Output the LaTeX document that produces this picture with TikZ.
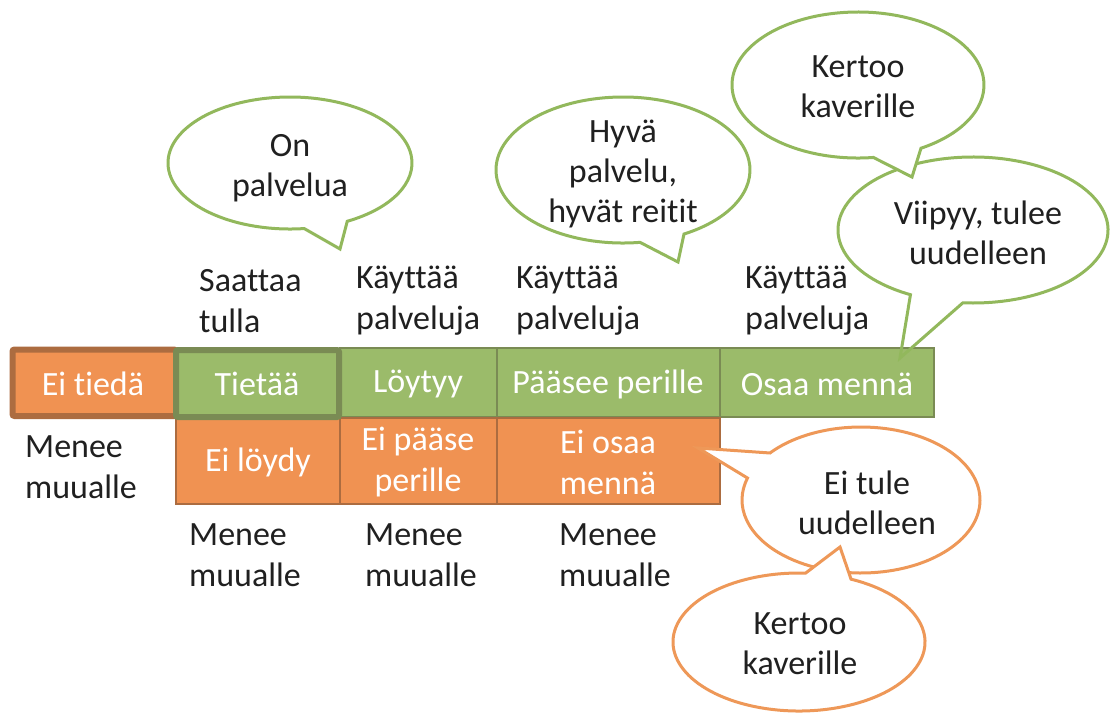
\documentclass[tikz,border=0pt]{standalone}
\usepackage{fontspec}
\setmainfont{Carlito}[Ligatures=NoCommon]
\definecolor{ofill}{RGB}{240,146,82}
\definecolor{oline}{RGB}{172,108,64}
\definecolor{gfill}{RGB}{155,187,106}
\definecolor{gline}{RGB}{122,139,84}
\definecolor{cgreen}{RGB}{146,184,92}
\definecolor{corange}{RGB}{238,152,88}
\definecolor{txt}{RGB}{32,32,32}
\newcommand{\bubble}[9]{%
  \path[#1] (#2,#3) ++(#6:#4 and #5) arc[start angle=#6, end angle=#7, x radius=#4, y radius=#5] -- (#8,#9) -- cycle;}
\tikzset{
  gbox/.style={draw=gline, fill=gfill, line width=2.6pt},
  obox/.style={draw=oline, fill=ofill, line width=2.6pt},
  gthick/.style={draw=gline, line width=6pt, rounded corners=2pt},
  othick/.style={draw=oline, fill=ofill, line width=6pt, rounded corners=2pt},
  boxtext/.style={text=white, font=\fontsize{34}{41}\selectfont, align=center, inner sep=0pt},
  lbl/.style={text=txt, font=\fontsize{34}{41}\selectfont, align=left, inner sep=0pt, anchor=west},
  ctext/.style={text=txt, font=\fontsize{34}{40}\selectfont, align=center, inner sep=0pt},
  callg/.style={draw=cgreen, fill=white, line width=3pt, line join=miter},
  callo/.style={draw=corange, fill=white, line width=3pt, line join=miter},
}
\begin{document}
\begin{tikzpicture}[x=1pt,y=-1pt]
\useasboundingbox (0,0) rectangle (1111,713);
% fill of the Viipyy bubble lies under the boxes
\bubble{fill=white}{973}{230}{135}{73}{117.6}{454.3}{900}{358}
% boxes
\path[gbox] (340,348) rectangle (497,417);
\path[gbox] (497,348) rectangle (720,417);
\path[gbox] (720,348) rectangle (934,417);
\path[obox] (176,418) rectangle (340,504);
\path[obox] (340,418) rectangle (497,504);
\path[obox] (497,418) rectangle (720,504);
\path[othick] (12.5,349.5) rectangle (176,416);
\path[gthick, fill=gfill] (176,350) rectangle (339,417);
% box texts
\node[boxtext] (eitieda) at (93,384) {Ei tiedä};
\node[boxtext] (tietaa) at (257,384) {Tietää};
\node[boxtext] (loytyy) at (418,384) {Löytyy};
\node[boxtext] (paasee) at (608,384) {Pääsee perille};
\node[boxtext] (osaa) at (827,384) {Osaa mennä};
\node[boxtext] (eiloydy) at (258,462) {Ei löydy};
\node[boxtext] (eipaase) at (418,462) {Ei pääse\\perille};
\node[boxtext] (eiosaa) at (608,462) {Ei osaa\\mennä};
% bubbles
\bubble{draw=cgreen, line width=3pt, line join=miter}{973}{230}{135}{73}{117.6}{454.3}{900}{358}
\bubble{callg}{290}{163}{122}{66}{83.3}{422}{340}{249}
\bubble{callg}{623}{170}{127}{73}{82.3}{421.3}{678}{262}
\bubble{callg}{858}{85}{126}{73}{83}{420}{912}{177}
\bubble{callo}{861}{500}{119}{73}{220.1}{557.5}{698}{448}
\bubble{callo}{799}{642}{126}{69}{294.4}{633}{840}{547}
\node[ctext] (onpalvelua) at (290,168) {On\\palvelua};
\node[ctext] (hyva) at (623,174) {Hyvä\\palvelu,\\hyvät reitit};
\node[ctext] (kertoog) at (858,87) {Kertoo\\kaverille};
\node[ctext] (viipyy) at (978,233) {Viipyy, tulee\\uudelleen};
\node[ctext] (eitule) at (867,503) {Ei tule\\uudelleen};
\node[ctext] (kertooo) at (800,644) {Kertoo\\kaverille};
% labels
\node[lbl] (saattaa) at (199,301) {Saattaa\\tulla};
\node[lbl] (kayttaa1) at (356,301) {Käyttää\\palveluja};
\node[lbl] (kayttaa2) at (516,301) {Käyttää\\palveluja};
\node[lbl] (kayttaa3) at (745,301) {Käyttää\\palveluja};
\node[lbl] (menee0) at (25,467) {Menee\\muualle};
\node[lbl] (menee1) at (189,555) {Menee\\muualle};
\node[lbl] (menee2) at (365,555) {Menee\\muualle};
\node[lbl] (menee3) at (559,555) {Menee\\muualle};
\end{tikzpicture}
\end{document}
